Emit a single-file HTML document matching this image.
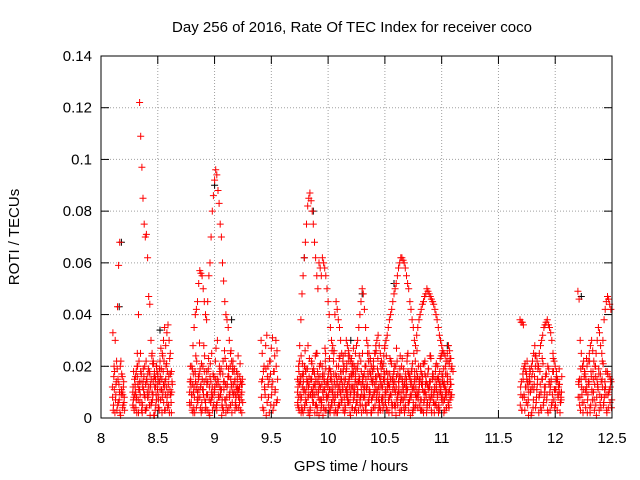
<!DOCTYPE html>
<html><head><meta charset="utf-8"><style>
html,body{margin:0;padding:0;background:#fff;}
svg{display:block;font-family:"Liberation Sans",sans-serif;}
</style></head><body>
<svg id="chart" width="640" height="480" xmlns="http://www.w3.org/2000/svg">
<rect width="640" height="480" fill="#fff"/>
<text x="352" y="32" font-size="15" text-anchor="middle">Day 256 of 2016, Rate Of TEC Index for receiver coco</text>
<text transform="translate(19,237) rotate(-90)" font-size="15" text-anchor="middle">ROTI / TECUs</text>
<text x="351" y="471" font-size="15" text-anchor="middle">GPS time / hours</text>
<g id="grid"></g><g id="marks"></g><g id="axes"></g>
</svg>
<script>
const xTicks=[8,8.5,9,9.5,10,10.5,11,11.5,12,12.5];
const xTickLabels=["8","8.5","9","9.5","10","10.5","11","11.5","12","12.5"];
const yTicks=[0,0.02,0.04,0.06,0.08,0.1,0.12,0.14];
const yTickLabels=["0","0.02","0.04","0.06","0.08","0.1","0.12","0.14"];
const step=0.01;
const clusterStarts=[8.10,8.28,8.78,9.41,9.73,11.69,12.20];
const trackA1=[12,5,18,9,3,15,7,20,11,4,14];
const trackA2=[8,16,2,13,19,6,10,1,17,9,6];
const trackA3=[33,20,30,14,43,59,68,22,10,5,8];
const trackA4=[3,11,7,22,5,13,2,9,16,12,3];
const trackB1=[5,8,12,18,25,40,122,109,97,85,75,70,71,62,47,44,30,25,22,18,15,20,17,14,22,19,25,30,35,28,33,36,30,25,18];
const trackB2=[12,3,16,8,20,11,6,14,2,19,9,13,4,17,10,1,15,7,21,12,5,18,9,3,16,11,24,6,14,20,8,13,2,17,10];
const trackB3=[7,15,10,2,13,22,9,17,5,11,20,3,14,8,18,12,6,21,1,16,9,13,4,19,7,15,10,22,3,12,18,5,23,9,14];
const trackB4=[18,9,4,20,7,14,25,3,12,16,8,22,10,19,5,13,24,9,16,3,20,11,7,14,27,2,18,12,9,21,4,16,11,6,13];
const trackB5=[10,4,13,7,16,2,11,18,6,14,9,3,15,8,12,17,5,10,14,1,12,7,16,4,11,19,8,13,3,15,6,10,17,9,2];
const trackC1=[10,15,20,28,35,40,42,45,52,57,56,55,50,45,40,38,45,55,60,70,80,86,92,96,94,88,83,75,70,60,53,45,40,38,35,30,25,22,20,18,15,12,10,8,12,14,10];
const trackC2=[5,12,3,17,8,14,22,6,11,19,2,15,9,24,4,13,18,7,21,10,3,16,12,27,6,14,20,9,1,17,11,23,5,13,19,8,15,2,22,10,6,18,12,4,16,9,13];
const trackC3=[14,6,19,10,2,24,13,8,17,4,21,11,28,7,15,3,19,12,6,25,9,16,4,13,30,8,18,11,5,22,14,7,20,3,16,10,26,6,13,19,9,4,17,11,21,7,15];
const trackC4=[20,9,13,4,18,11,7,16,29,12,6,20,14,3,18,9,23,1,14,8,17,11,22,5,15,9,12,19,7,3,26,13,8,16,4,20,12,18,9,14,5,11,24,8,3,13,6];
const trackC5=[6,14,9,2,12,17,4,10,15,8,13,3,11,18,6,9,14,2,16,7,12,5,10,15,3,13,8,17,11,4,14,7,2,12,16,9,5,13,10,18,3,8,15,11,6,14,2];
const trackD1=[30,25,18,12,28,32,20,15,22,27,31,18,24,30,26];
const trackD2=[8,15,3,11,19,6,13,2,17,9,14,5,10,20,7];
const trackD3=[14,4,20,9,1,16,8,22,5,12,3,18,11,6,15];
const trackE1=[15,20,28,38,48,55,62,68,75,82,85,87,84,80,75,68,62,55,50,60,58,55,62,60,58,55,50,45,40,35,30,28,25,40,45,42,38,35,30,25,22,20,25,30,28,26,24,22,20,18,20,25,28,30,35,40,45,50,48,42,35,30,28,25,22,20,18,22,25,28,30,32,28,25,22,20,24,28,30,32,35,38,40,42,45,48,50,52,55,58,60,62,62,61,60,58,55,52,50,45,42,38,35,30,28,32,35,38,40,42,44,45,47,48,50,49,48,47,46,45,44,42,40,38,35,32,30,28,26,25,24,22,25,28,26,23,20,18];
const trackE2=[5,18,9,24,3,14,20,7,12,28,16,4,22,10,19,2,15,25,8,13,21,6,17,11,27,3,14,9,23,18,5,12,26,8,16,2,20,11,15,7,24,13,4,19,10,22,6,17,12,27,3,15,9,21,14,5,18,25,8,12,20,2,16,11,23,7,14,19,4,26,10,17,6,21,13,3,18,9,24,15,7,12,22,4,16,20,10,27,5,14,19,8,23,11,2,17,13,25,6,15,9,21,4,18,12,26,7,14,20,3,16,10,22,8,13,19,5,24,11,17,6,15,21,9,2,18,12,25,7,14,20,4,16,10,23,8];
const trackE3=[12,3,16,8,21,11,5,19,14,2,23,9,15,6,18,12,25,4,10,20,7,13,1,17,22,9,15,5,19,11,26,8,14,3,20,10,16,24,6,13,18,2,11,21,7,15,9,23,4,17,12,19,6,14,24,8,2,16,11,20,5,13,22,9,17,3,15,10,25,7,19,12,4,16,8,21,14,6,18,11,2,23,9,15,13,5,20,7,17,10,24,3,14,19,8,12,22,6,16,1,18,11,25,4,15,9,20,13,7,17,3,21,10,14,6,19,12,23,8,16,2,18,11,20,5,14,24,9,13,7,17,10,22,4,15,19];
const trackE4=[8,22,14,4,17,10,26,6,19,12,1,15,21,9,13,24,5,18,11,16,3,20,8,14,25,7,12,19,2,16,10,22,6,17,13,4,23,9,15,11,20,5,18,8,24,12,1,16,21,10,14,6,19,3,15,22,9,13,17,5,11,25,7,18,2,14,20,10,16,8,23,4,12,19,6,15,27,11,3,17,13,9,21,5,18,14,1,22,10,16,6,20,12,4,15,9,24,17,7,13,19,3,11,22,8,16,10,5,18,14,21,7,13,2,17,11,24,9,15,6,12,20,4,16,10,23,8,14,19,3,11,17,6,21,13,9];
const trackE5=[10,4,13,7,16,2,11,18,6,14,9,3,15,8,12,17,5,10,14,1,12,7,16,4,11,19,8,13,3,15,6,10,17,9,2,14,12,5,18,7,11,15,3,9,13,6,16,10,4,12,8,17,2,11,14,7,13,5,16,9,3,12,18,6,10,15,8,4,13,11,16,2,9,14,7,12,5,17,10,3,13,8,15,6,11,18,4,12,9,14,2,16,7,10,13,5,15,11,3,17,8,12,6,14,9,18,4,11,15,7,13,2,10,16,5,12,8,14,3,17,9,11,6,15,4,13,10,7,16,2,12,8,14,5,11,9];
const trackE6=[6,14,9,2,12,17,4,10,15,8,13,3,11,18,6,9,14,2,16,7,12,5,10,15,3,13,8,17,11,4,14,7,2,12,16,9,5,13,10,18,3,8,15,11,6,14,2,12,17,7,10,4,13,9,16,5,11,14,3,8,15,12,6,10,17,2,13,9,5,14,11,7,16,3,12,8,15,10,4,13,6,17,9,2,14,11,5,16,8,12,3,10,15,7,13,4,11,18,6,9,14,2,12,16,5,10,8,15,3,13,11,6,17,9,4,12,14,7,2,16,10,5,13,8,15,3,11,17,6,12,9,4,14,10,7,13];
const trackF1=[38,37,37,36,20,18,15,12,14,18,20,22,25,28,24,22,20,25,28,30,32,35,36,37,38,36,35,33,30,25,22,20,18,15,12,10,8];
const trackF2=[5,14,8,19,3,12,22,7,16,10,2,18,11,24,6,13,20,9,4,15,21,8,12,17,3,19,10,14,6,23,11,5,16,9,13,2,7];
const trackF3=[12,3,17,9,21,6,14,1,19,11,16,4,13,20,8,15,2,18,10,23,5,12,16,7,20,13,3,15,9,18,4,11,14,8,19,6,10];
const trackF4=[9,3,15,8,12,17,5,10,14,1,12,7,16,4,11,19,8,13,3,15,6,10,17,9,2,14,12,5,18,7,11,15,3,9,13,6,16];
const trackG1=[49,46,30,25,20,22,18,15,20,22,25,28,30,26,22,20,25,30,35,33,28,25,30,38,42,45,47,46,44,42];
const trackG2=[8,15,3,12,20,6,17,10,2,14,22,5,11,18,7,16,1,13,19,9,4,15,21,8,12,3,17,10,6,14];
const trackG3=[14,5,19,9,2,16,11,23,7,13,4,18,10,15,3,20,8,12,17,6,14,22,5,11,18,2,9,16,12,4];
const trackG4=[13,8,15,6,11,18,4,12,9,14,2,16,7,10,13,5,15,11,3,17,8,12,6,14,9,18,4,11,15,7];
const blackTimes=[8.16,8.18,9.0,9.79,9.87,10.3,10.58,12.23,10.2,11.05,8.52,9.15];
const blackValues=[43,68,90,62,80,48,52,47,30,28,34,38];

const L=101,R=612,T=56,B=418;
const xs=t=>L+(t-8)/4.5*(R-L);
const ys=v=>B-v/0.14*(B-T);
const NS="http://www.w3.org/2000/svg";
const grid=document.getElementById('grid'),axes=document.getElementById('axes'),marks=document.getElementById('marks');
function mk(tag,attrs,parent){const e=document.createElementNS(NS,tag);for(const k in attrs)e.setAttribute(k,attrs[k]);parent.appendChild(e);return e;}

yTicks.forEach((v,i)=>{
  const y=ys(v);
  if(i>0&&i<yTicks.length-1){const g=mk('line',{x1:L,x2:R,y1:y,y2:y,stroke:'#a0a0a0','stroke-dasharray':'1,2'},grid);
  
  }
  mk('line',{x1:L,x2:L+8,y1:y,y2:y,stroke:'#000'},axes);
  mk('line',{x1:R,x2:R-8,y1:y,y2:y,stroke:'#000'},axes);
  const t=mk('text',{x:L-9,y:y+5,'font-size':15,'text-anchor':'end'},axes);t.textContent=yTickLabels[i];
  
  
});
xTicks.forEach((v,i)=>{
  const x=xs(v);
  if(i>0&&i<xTicks.length-1){const g=mk('line',{x1:x,x2:x,y1:T,y2:B,stroke:'#a0a0a0','stroke-dasharray':'1,2'},grid);
  
  }
  mk('line',{x1:x,x2:x,y1:B,y2:B-8,stroke:'#000'},axes);
  mk('line',{x1:x,x2:x,y1:T,y2:T+8,stroke:'#000'},axes);
  const t=mk('text',{x:x,y:B+25,'font-size':15,'text-anchor':'middle'},axes);t.textContent=xTickLabels[i];
  
  
});
const frame=mk('rect',{x:L,y:T,width:R-L,height:B-T,fill:'none',stroke:'#000'},axes);



function plus(t,v,color){
  const x=xs(t),y=ys(v/1000);
  const p=mk('path',{d:`M${(x-3.5).toFixed(1)} ${y.toFixed(1)}h7M${x.toFixed(1)} ${(y-3.5).toFixed(1)}v7`,stroke:color,'stroke-width':1,fill:'none'},marks);
  
  
}
blackTimes.forEach((t,i)=>plus(t,blackValues[i],'#000'));
const clusters=[[trackA1,trackA2,trackA3,trackA4],[trackB1,trackB2,trackB3,trackB4,trackB5],[trackC1,trackC2,trackC3,trackC4,trackC5],[trackD1,trackD2,trackD3],[trackE1,trackE2,trackE3,trackE4,trackE5,trackE6],[trackF1,trackF2,trackF3,trackF4],[trackG1,trackG2,trackG3,trackG4]];
clusters.forEach((tracks,ci)=>{
  tracks.forEach((vals,ti)=>{
    vals.forEach((v,i)=>plus(clusterStarts[ci]+i*step+(ti%4)*step/4,v,'#ff0000'));
  });
});
</script>
</body></html>
